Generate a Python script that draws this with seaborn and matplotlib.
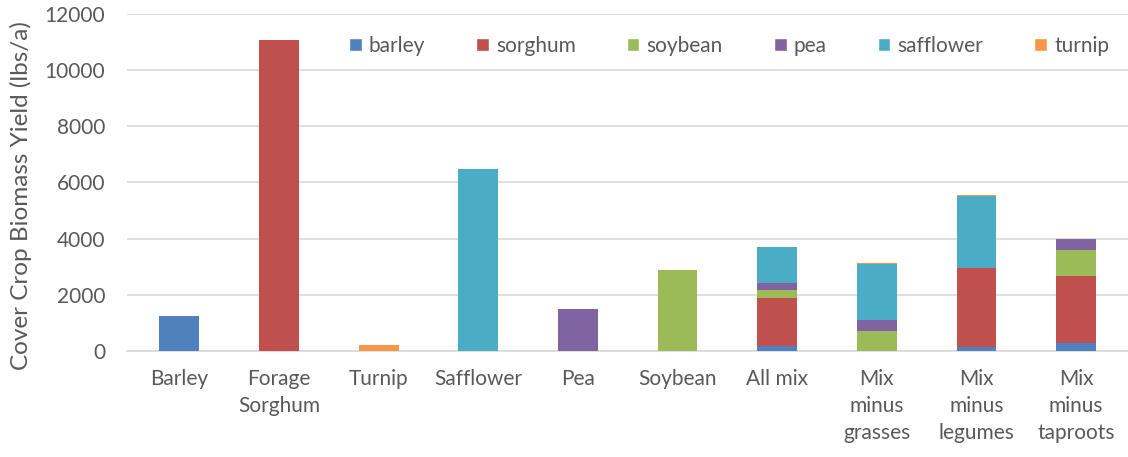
import matplotlib
matplotlib.use("Agg")
import matplotlib.pyplot as plt
import numpy as np
import pandas as pd
import seaborn as sns
from matplotlib.patches import Patch

categories = ["Barley", "Forage\nSorghum", "Turnip", "Safflower", "Pea", "Soybean",
              "All mix", "Mix\nminus\ngrasses", "Mix\nminus\nlegumes", "Mix\nminus\ntaproots"]

barley = [1250, 0, 0, 0, 0, 0, 160, 0, 155, 280]
sorghum = [0, 11070, 0, 0, 0, 0, 1740, 0, 2800, 2380]
soybean = [0, 0, 0, 0, 0, 2890, 280, 720, 0, 920]
pea = [0, 0, 0, 0, 1500, 0, 240, 380, 0, 400]
safflower = [0, 0, 0, 6460, 0, 0, 1270, 2010, 2550, 0]
turnip = [0, 0, 215, 0, 0, 0, 25, 35, 45, 0]

species = ["barley", "sorghum", "soybean", "pea", "safflower", "turnip"]
colors = ["#4F81BD", "#C0504D", "#9BBB59", "#8064A2", "#4BACC6", "#F79646"]

df = pd.DataFrame({"category": categories, "barley": barley, "sorghum": sorghum,
                   "soybean": soybean, "pea": pea, "safflower": safflower, "turnip": turnip})

sns.set_style("white")
plt.rcParams["font.family"] = ["Lato", "DejaVu Sans"]
gray = "#595959"

fig, ax = plt.subplots(figsize=(11.28, 4.57), dpi=100)
fig.subplots_adjust(left=0.113, right=1.0, bottom=0.232, top=0.97)

bottom = np.zeros(len(categories))
for name, color in zip(species, colors):
    sns.barplot(data=df, x="category", y=name, color=color, width=0.4,
                bottom=bottom, saturation=1, errorbar=None, ax=ax, zorder=3,
                linewidth=0)
    bottom = bottom + df[name].to_numpy()

ax.set_ylim(0, 12000)
ax.set_yticks(range(0, 12001, 2000))
ax.set_xlim(-0.52, 9.52)
ax.yaxis.grid(True, color="#D9D9D9", linewidth=1.2, zorder=0)
ax.set_axisbelow(True)
for s in ["top", "right", "left"]:
    ax.spines[s].set_visible(False)
ax.spines["bottom"].set_color("#D9D9D9")
ax.spines["bottom"].set_linewidth(1.2)
ax.tick_params(axis="y", length=0, labelsize=15, colors=gray, pad=16)
ax.tick_params(axis="x", length=0, labelsize=15, colors=gray, pad=13)
for lbl in ax.get_xticklabels():
    lbl.set_linespacing(1.45)
ax.set_xlabel("")
ax.set_ylabel("Cover Crop Biomass Yield (lbs/a)", fontsize=17.5, color=gray)
ax.yaxis.set_label_coords(-0.095, 0.46)

handles = [Patch(facecolor=c, label=n) for n, c in zip(species, colors)]
ax.legend(handles=handles, ncol=6, loc="upper right", bbox_to_anchor=(1.0, 0.99),
          frameon=False, fontsize=15, handlelength=0.6, handleheight=0.6,
          handletextpad=0.35, columnspacing=2.45, labelcolor=gray)

fig.savefig("out.png", dpi=100)
